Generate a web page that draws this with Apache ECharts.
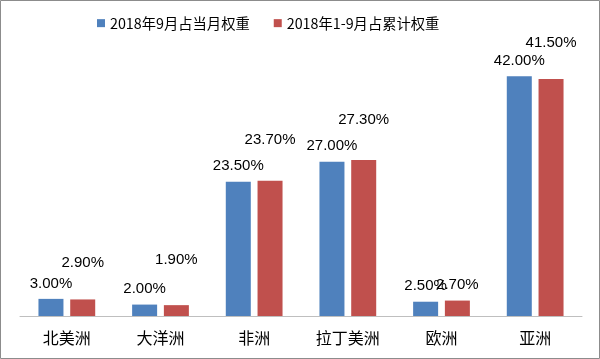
<!DOCTYPE html>
<html><head><meta charset="utf-8">
<script src="https://cdn.jsdelivr.net/npm/echarts@6/dist/echarts.min.js"></script>
<style>html,body{margin:0;padding:0;background:#fff}#c{width:600px;height:359px}</style>
</head><body><div id="c"></div>
<script>
const categories = ['北美洲','大洋洲','非洲','拉丁美洲','欧洲','亚洲'];
const seriesNames = ['2018年9月占当月权重','2018年1-9月占累计权重'];
const monthShare = [3.00, 2.00, 23.50, 27.00, 2.50, 42.00];
const cumulativeShare = [2.90, 1.90, 23.70, 27.30, 2.70, 41.50];

// label lift (px) for the cumulative series, as placed in the original
const cumLabelDistance = [29, 38, 33, 33, 8, 29];

const chart = echarts.init(document.getElementById('c'), null, {renderer:'canvas'});
const labelFont = {fontFamily:'Liberation Sans, Arial, sans-serif', fontSize:15, color:'#000'};
const fmt = p => p.value.toFixed(2) + '%';
chart.setOption({
  animation:false,
  backgroundColor:'#fff',
  graphic:[{type:'rect', shape:{x:0.5,y:0.5,width:599,height:358}, style:{fill:'none', stroke:'#8c8c8c', lineWidth:1}, silent:true}],
  legend:{
    data:seriesNames, left:92, top:11, icon:'rect', itemWidth:8, itemHeight:8, itemGap:24,
    textStyle:{fontFamily:'Noto Sans CJK SC, sans-serif', fontSize:14.3, color:'#000'}
  },
  grid:{left:20, right:18, top:59, bottom:43, containLabel:false},
  xAxis:{
    type:'category', data:categories,
    axisLine:{lineStyle:{color:'#bfbfbf'}}, axisTick:{show:false},
    axisLabel:{fontFamily:'Noto Sans CJK SC, sans-serif', fontSize:16, color:'#000', margin:14}
  },
  yAxis:{type:'value', min:0, max:45, show:false, splitLine:{show:false}},
  series:[
    {name:seriesNames[0], type:'bar', data:monthShare, barWidth:25, barGap:'27%',
     itemStyle:{color:'#4f81bd'},
     label:{show:true, position:'top', distance:8, formatter:fmt, ...labelFont}},
    {name:seriesNames[1], type:'bar', barWidth:25,
     data:cumulativeShare.map((v,i)=>({value:v, label:{distance:cumLabelDistance[i]}})),
     itemStyle:{color:'#c0504d'},
     label:{show:true, position:'top', distance:31, formatter:fmt, ...labelFont}}
  ]
});
</script></body></html>
